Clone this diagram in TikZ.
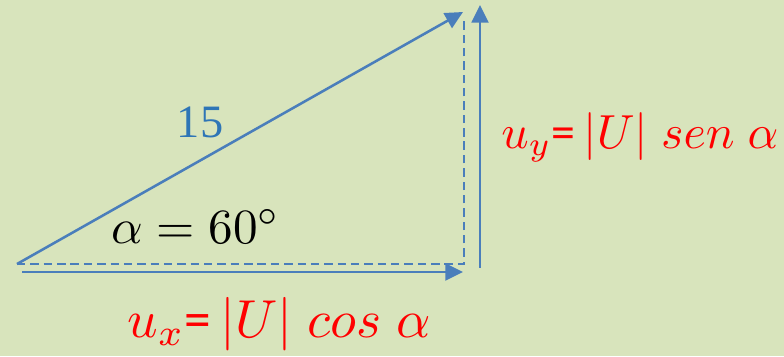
\documentclass[tikz,border=0pt]{standalone}
\usepackage{amsmath}
\usepackage{xcolor}
\usepackage{fontspec}
\newfontfamily\timesfont{Liberation Serif}
\newfontfamily\calfont{Carlito}
\usetikzlibrary{arrows.meta}
\definecolor{bgolive}{HTML}{D8E4BC}
\definecolor{vecblue}{HTML}{4A7EBB}
\definecolor{numblue}{HTML}{2E75B6}

\begin{document}
\begin{tikzpicture}[x=0.025cm, y=0.025cm,
    vec/.style={vecblue, line width=1.8pt, -{Triangle[length=0.44cm, width=0.42cm]}},
    proj/.style={vecblue, line width=1.1pt, dash pattern=on 6pt off 3.5pt}]
  \useasboundingbox (0,0) rectangle (784,356);
  \fill[bgolive] (0,0) rectangle (784,356);
  % points of the triangle
  \coordinate (O) at (17,92);
  \coordinate (U) at (463,344);
  \coordinate (C) at (464,92);
  \coordinate (Ct) at (464,338);
  \coordinate (xs) at (22,84);
  \coordinate (xe) at (463,84);
  \coordinate (ys) at (480,88);
  \coordinate (ye) at (480,351);
  % projections and components
  \draw[proj] (O) -- (C) -- (Ct);
  \draw[vec] (O) -- (U);
  \draw[vec] (xs) -- (xe);
  \draw[vec] (ys) -- (ye);
  % labels
  \node[numblue, font=\timesfont, scale=3.3] (len) at (200,234) {15};
  \node[anchor=base, scale=3.5] (ang) at (196,113) {$\alpha = 60^\circ$};
  \node[anchor=base, red, scale=3.8] (ux) at (279,19)
    {$u_x$\calfont=\,$|U|\;cos\;\alpha$};
  \node[anchor=base, red, scale=3.4] (uy) at (640,208)
    {$u_y$\calfont=\,$|U|\;sen\;\alpha$};
\end{tikzpicture}
\end{document}
